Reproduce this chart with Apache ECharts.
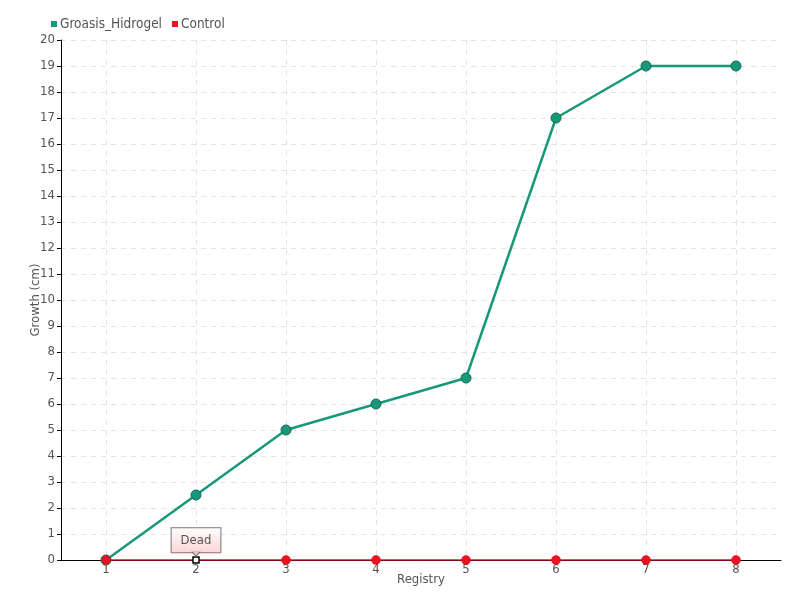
<!DOCTYPE html>
<html><head><meta charset="utf-8">
<script src="https://cdn.jsdelivr.net/npm/echarts@6/dist/echarts.min.js"></script>
<style>html,body{margin:0;padding:0;background:#fff}#c{width:800px;height:600px}</style>
</head><body><div id="c"></div>
<script>
const categories = ['1','2','3','4','5','6','7','8'];
const groasisValues = [0, 2.5, 5, 6, 7, 17, 19, 19];
const controlValues = [0, 0, 0, 0, 0, 0, 0, 0];
const deadIndex = 1;
const deadLabel = 'Dead';

const font = '"DejaVu Sans Condensed", "DejaVu Sans", sans-serif';
const chart = echarts.init(document.getElementById('c'));
const controlData = controlValues.map((v, i) => i === deadIndex ? {
  value: v,
  symbol: 'rect',
  symbolSize: 6,
  itemStyle: {color: '#ffffff', borderColor: '#000000', borderWidth: 1.5},
  label: {
    show: true, position: 'top', distance: 4, formatter: deadLabel,
    color: '#555', fontSize: 13, fontFamily: font,
    padding: [6, 9, 5, 9], borderColor: '#777', borderWidth: 1,
    backgroundColor: {type: 'linear', x: 0, y: 0, x2: 0, y2: 1,
      colorStops: [{offset: 0, color: '#ffffff'}, {offset: 1, color: '#fcd4d4'}]}
  }
} : v);

chart.setOption({
  animation: false,
  textStyle: {fontFamily: font},
  legend: {
    left: 46, top: 12, itemWidth: 6, itemHeight: 6, itemGap: 10,
    itemStyle: {borderWidth: 0},
    textStyle: {color: '#555', fontSize: 13.5, fontFamily: font, padding: [0,0,0,-2]},
    data: [{name: 'Groasis_Hidrogel', icon: 'rect'}, {name: 'Control', icon: 'rect'}]
  },
  grid: {left: 61, right: 19, top: 40, bottom: 40},
  xAxis: {
    type: 'category', data: categories, boundaryGap: true,
    name: 'Registry', nameLocation: 'middle', nameGap: 13, nameMoveOverlap: false,
    nameTextStyle: {color: '#555', fontSize: 13, fontFamily: font},
    axisLine: {lineStyle: {color: '#000', width: 1}},
    axisTick: {show: false},
    axisLabel: {color: '#555', fontSize: 13, margin: 3, fontFamily: font},
    splitLine: {show: true, alignWithLabel: true, lineStyle: {color: '#e3e3e3', type: [5, 5]}}
  },
  yAxis: {
    type: 'value', min: 0, max: 20, interval: 1,
    name: 'Growth (cm)', nameLocation: 'middle', nameGap: 19, nameMoveOverlap: false,
    nameTextStyle: {color: '#555', fontSize: 13, fontFamily: font},
    axisLine: {show: true, lineStyle: {color: '#000', width: 1}},
    axisTick: {show: true, length: 4, lineStyle: {color: '#000'}},
    axisLabel: {color: '#555', fontSize: 13, margin: 6, fontFamily: font},
    splitLine: {show: true, lineStyle: {color: '#e3e3e3', type: [5, 5]}}
  },
  series: [
    {
      name: 'Groasis_Hidrogel', type: 'line', data: groasisValues,
      symbol: 'circle', symbolSize: 10,
      lineStyle: {color: '#17987a', width: 2.5},
      itemStyle: {color: '#17987a', borderColor: '#0f6a52', borderWidth: 1}
    },
    {
      name: 'Control', type: 'line', data: controlData,
      symbol: 'circle', symbolSize: 9,
      lineStyle: {color: '#ee1122', width: 1.5},
      itemStyle: {color: '#ee1122', borderColor: '#d01020', borderWidth: 0.5},
      markPoint: {
        silent: true,
        data: [{
          coord: [categories[deadIndex], controlValues[deadIndex]],
          symbol: 'triangle', symbolRotate: 180, symbolSize: [8, 4], symbolOffset: [0, -6],
          itemStyle: {color: '#fcd4d4', borderColor: '#777', borderWidth: 1},
          label: {show: false}
        }]
      }
    }
  ]
});
</script></body></html>
